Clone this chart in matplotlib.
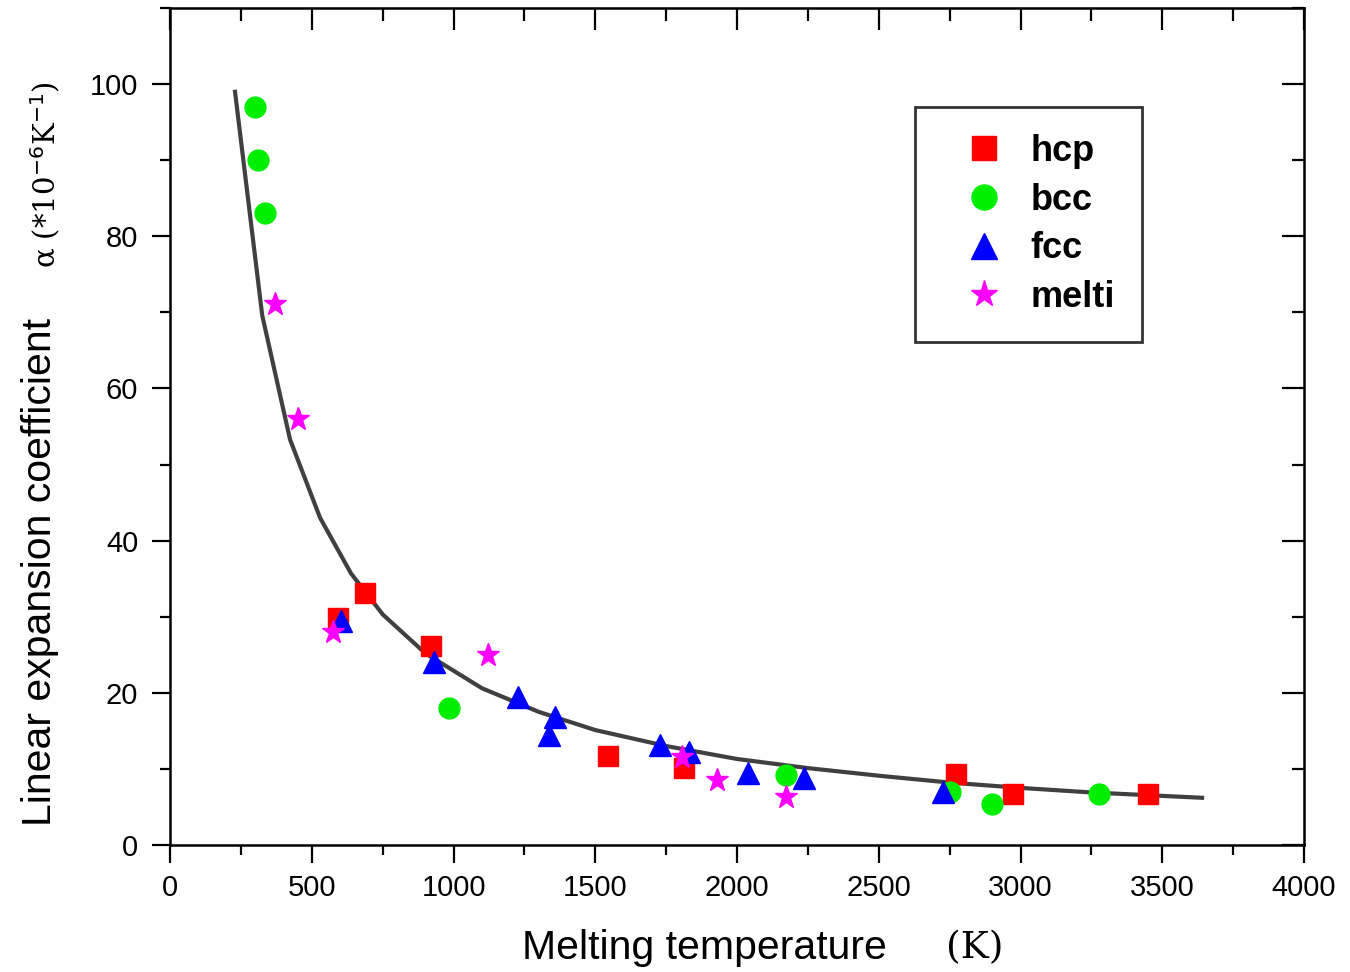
import numpy as np
import matplotlib.pyplot as plt
from matplotlib.ticker import MultipleLocator

plt.rcParams['font.family'] = ['Liberation Sans', 'DejaVu Sans']

# data
hcp_T = [593, 688, 921, 1545, 1813, 2772, 2974, 3450]
hcp_a = [29.8, 33.1, 26.1, 11.7, 10.1, 9.3, 6.7, 6.7]

bcc_T = [300, 310, 335, 984, 2173, 2751, 2900, 3275]
bcc_a = [97.0, 90.0, 83.0, 18.0, 9.2, 7.0, 5.4, 6.7]

fcc_T = [603, 931, 1228, 1358, 1337, 1728, 1831, 2040, 2236, 2727]
fcc_a = [29.4, 24.0, 19.4, 16.8, 14.5, 13.1, 12.2, 9.5, 8.8, 7.0]

melti_T = [370, 451, 575, 1122, 1806, 1930, 2173]
melti_a = [71.1, 56.0, 28.0, 25.0, 11.6, 8.5, 6.3]

fit_T = [229, 325, 423, 529, 638, 750, 900, 1100, 1300, 1500, 1750,
         2000, 2250, 2500, 2750, 3000, 3250, 3640]
fit_a = [99.0, 69.6, 53.3, 43.0, 35.7, 30.3, 25.2, 20.6, 17.5, 15.1, 13.0,
         11.3, 10.1, 9.1, 8.2, 7.5, 6.9, 6.2]

fig = plt.figure(figsize=(13.5, 9.72), dpi=100)
ax = fig.add_axes([0.126, 0.1307, 0.840, 0.861])

ax.plot(fit_T, fit_a, color='#404040', lw=3, zorder=2)
ax.plot(hcp_T, hcp_a, 's', color='red', ms=14, ls='none', label='hcp', zorder=3)
ax.plot(bcc_T, bcc_a, 'o', color='#00ee00', ms=15, ls='none', label='bcc', zorder=3)
ax.plot(fcc_T, fcc_a, '^', color='blue', ms=16, ls='none', label='fcc', zorder=4)
ax.plot(melti_T, melti_a, '*', color='magenta', ms=17, ls='none', label='melti', zorder=5)

ax.set_xlim(0, 4000)
ax.set_ylim(0, 110)
ax.xaxis.set_major_locator(MultipleLocator(500))
ax.xaxis.set_minor_locator(MultipleLocator(250))
ax.yaxis.set_major_locator(MultipleLocator(20))
ax.yaxis.set_minor_locator(MultipleLocator(10))
ax.set_yticks([0, 20, 40, 60, 80, 100])

for s in ax.spines.values():
    s.set_linewidth(1.8)
ax.tick_params(which='both', direction='out', labelsize=21, width=1.6,
               top=False, right=False)
ax.tick_params(which='major', length=13)
ax.tick_params(which='minor', length=7)
ax.tick_params(axis='y', pad=10)
ax.tick_params(axis='x', pad=8)

# inward ticks on top and right
ax2 = ax.secondary_xaxis('top')
ax2.xaxis.set_major_locator(MultipleLocator(500))
ax2.xaxis.set_minor_locator(MultipleLocator(250))
ax2.tick_params(which='both', direction='in', labeltop=False, width=1.6)
ax2.tick_params(which='major', length=16)
ax2.tick_params(which='minor', length=9)
ax3 = ax.secondary_yaxis('right')
ax3.yaxis.set_major_locator(MultipleLocator(20))
ax3.yaxis.set_minor_locator(MultipleLocator(10))
ax3.tick_params(which='both', direction='in', labelright=False, width=1.6)
ax3.tick_params(which='major', length=16)
ax3.tick_params(which='minor', length=9)

fig.text(0.522, 0.025, 'Melting temperature', fontsize=29.5, ha='center', va='center')
fig.text(0.722, 0.025, '(K)', fontsize=27, family='DejaVu Serif', ha='center', va='center')
fig.text(0.030, 0.412, 'Linear expansion coefficient', fontsize=29.5, rotation=90,
         ha='center', va='center')
fig.text(0.034, 0.820, 'α (*10$^{-6}$K$^{-1}$)', fontsize=21, rotation=90,
         family='DejaVu Serif', ha='center', va='center')

leg = ax.legend(loc='upper left', bbox_to_anchor=(0.657, 0.882), frameon=True,
                fancybox=False, edgecolor='black', markerscale=1.2,
                prop={'weight': 'bold', 'size': 26}, handletextpad=0.15,
                handlelength=2.3, borderpad=0.75, labelspacing=0.38,
                borderaxespad=0)
leg.get_frame().set_linewidth(2)

fig.savefig('out.png', dpi=100)
